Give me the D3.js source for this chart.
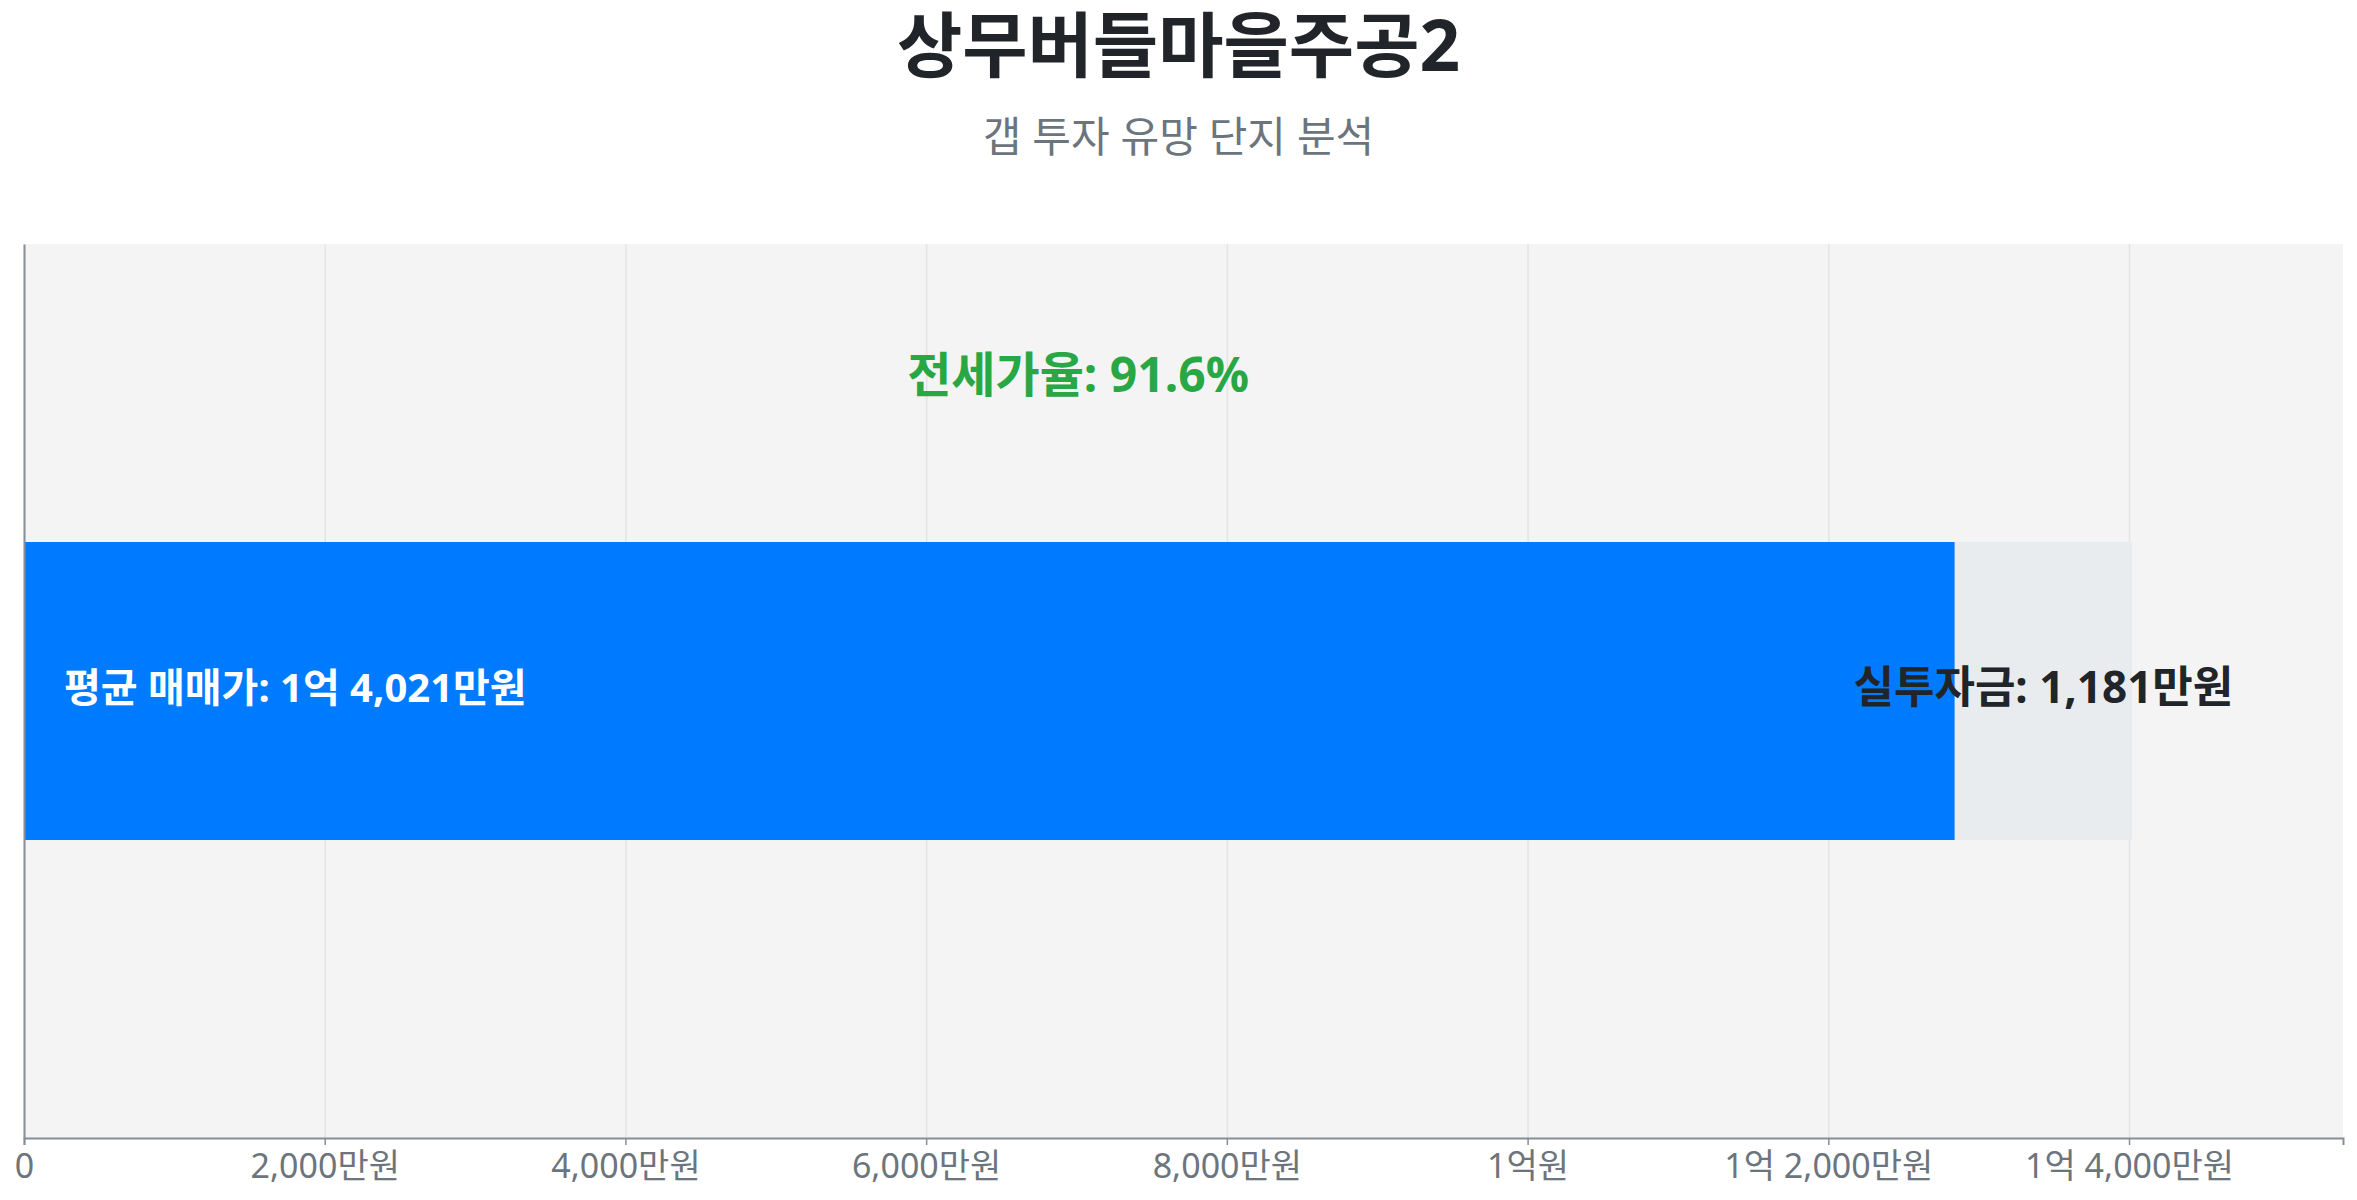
<!DOCTYPE html>
<html>
<head>
<meta charset="utf-8">
<script src="https://cdn.jsdelivr.net/npm/d3@7"></script>
<style>
  body { margin: 0; background: #fff; }
  svg { display: block; font-family: "Noto Sans", "Noto Sans CJK KR", sans-serif; }
</style>
</head>
<body>
<svg class="svg" width="2357" height="1200"></svg>
<script>
// 데이터
const complexName = "상무버들마을주공2";
const subtitle = "갭 투자 유망 단지 분석";
const categories = [complexName];
const salePrice = [14021];   // 평균 매매가 (만원)
const jeonsePrice = [12840]; // 평균 전세가 (만원)
const tickValues = [0, 2000, 4000, 6000, 8000, 10000, 12000, 14000];

const W = 2357, H = 1200;
const margin = {top: 244, right: 14, bottom: 62, left: 24};
const width = W - margin.left - margin.right;
const height = H - margin.top - margin.bottom;

const svg = d3.select(".svg");

// 만원 단위 -> "1억 2,000만원"
function won(v) {
  const eok = Math.floor(v / 10000);
  const man = v % 10000;
  if (v === 0) return "0";
  if (eok === 0) return d3.format(",")(man) + "만원";
  if (man === 0) return eok + "억원";
  return eok + "억 " + d3.format(",")(man) + "만원";
}

// 제목
svg.append("text").text(complexName)
  .attr("x", W / 2).attr("y", 71)
  .attr("text-anchor", "middle")
  .attr("font-size", 71).attr("font-weight", 700).attr("fill", "#212529");
svg.append("text").text(subtitle)
  .attr("x", W / 2).attr("y", 152)
  .attr("text-anchor", "middle")
  .attr("font-size", 42).attr("fill", "#6c757d");

const g = svg.append("g").attr("transform", `translate(${margin.left},${margin.top})`);

const x = d3.scaleLinear().domain([0, d3.max(salePrice) * 1.1]).range([0, width]);
const y = d3.scaleBand().domain(categories).range([0, height]).padding(0.5);

// 배경
g.append("rect").attr("width", width).attr("height", height).attr("fill", "#f4f4f4");

// 그리드
g.append("g")
  .call(d3.axisBottom(x).tickValues(tickValues).tickSize(height).tickFormat(""))
  .call(a => a.select(".domain").remove())
  .call(a => a.selectAll("line").attr("stroke", "#e4e4e4").attr("stroke-width", 1.5));

// 막대
const rows = categories.map((c, i) => ({name: c, sale: salePrice[i], jeonse: jeonsePrice[i]}));

g.selectAll(".bg-bar").data(rows).enter().append("rect")
  .attr("x", x(0)).attr("y", d => y(d.name))
  .attr("width", d => x(d.sale) - x(0)).attr("height", y.bandwidth())
  .attr("fill", "#e9ecef");

g.selectAll(".jeonse-bar").data(rows).enter().append("rect")
  .attr("x", x(0)).attr("y", d => y(d.name))
  .attr("width", d => x(d.jeonse) - x(0)).attr("height", y.bandwidth())
  .attr("fill", "#007bff");

// 라벨
rows.forEach(d => {
  const cy = y(d.name) + y.bandwidth() / 2;
  g.append("text").text("평균 매매가: " + won(d.sale))
    .attr("x", 40).attr("y", cy).attr("dy", "0.27em")
    .attr("font-size", 40).attr("font-weight", 700).attr("fill", "#fff");
  g.append("text").text("실투자금: " + won(d.sale - d.jeonse))
    .attr("x", (x(d.jeonse) + x(d.sale)) / 2).attr("y", cy).attr("dy", "0.27em")
    .attr("text-anchor", "middle")
    .attr("font-size", 44).attr("font-weight", 700).attr("fill", "#212529");
  g.append("text").text("전세가율: " + (d.jeonse / d.sale * 100).toFixed(1) + "%")
    .attr("x", x(d.sale / 2)).attr("y", y(d.name) / 2 - 1)
    .attr("text-anchor", "middle")
    .attr("font-size", 48).attr("font-weight", 700).attr("fill", "#28a745");
});

// 축
g.append("g").attr("transform", `translate(0,${height})`)
  .call(d3.axisBottom(x).tickValues(tickValues).tickSize(7).tickPadding(9).tickFormat(won))
  .call(a => a.select(".domain").attr("stroke", "#868e96").attr("stroke-width", 2))
  .call(a => a.selectAll("line").attr("stroke", "#868e96").attr("stroke-width", 1.5))
  .call(a => a.selectAll("text").attr("font-size", 34).attr("fill", "#6c757d")
    .attr("font-family", "'Noto Sans', 'Noto Sans CJK KR'"));

g.append("g")
  .call(d3.axisLeft(y).tickSize(0).tickFormat(""))
  .call(a => a.select(".domain").attr("stroke", "#868e96").attr("stroke-width", 2));
</script>
</body>
</html>
